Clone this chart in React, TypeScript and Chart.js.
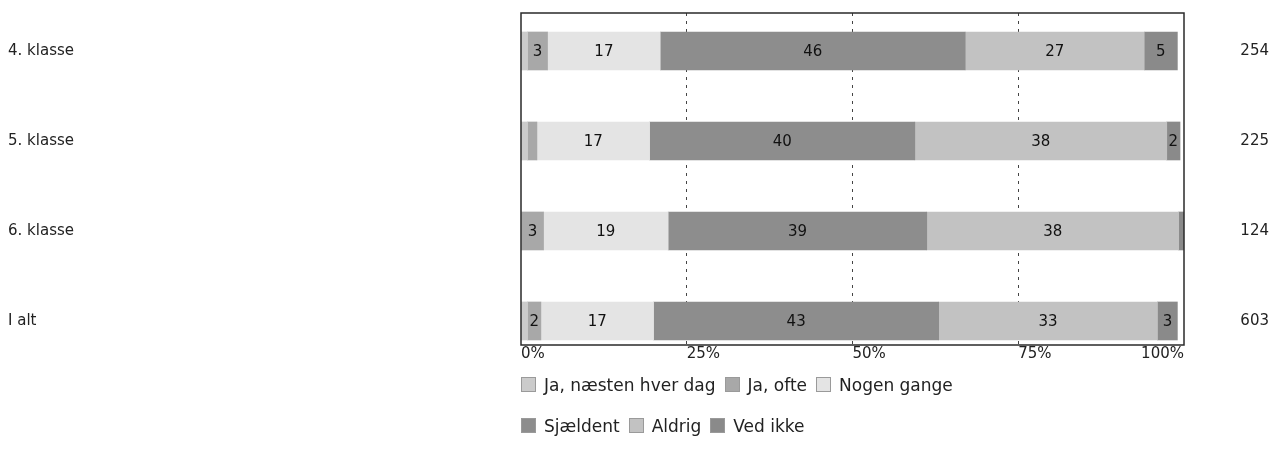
import React, { useEffect, useRef } from "react";
import { Chart, registerables } from "chart.js";

Chart.register(...registerables);

const categories = ["4. klasse", "5. klasse", "6. klasse", "I alt"];
const totals = ["254", "225", "124", "603"];
const seriesNames = ["Ja, næsten hver dag", "Ja, ofte", "Nogen gange", "Sjældent", "Aldrig", "Ved ikke"];
const jaNaestenHverDag = [1, 1, 0, 1];
const jaOfte = [3, 1.4, 3.4, 2];
const nogenGange = [17, 17, 18.8, 17];
const sjaeldent = [46, 40, 39, 43];
const aldrig = [27, 38, 38, 33];
const vedIkke = [5, 2, 0.8, 3];
const seriesValues = [jaNaestenHverDag, jaOfte, nogenGange, sjaeldent, aldrig, vedIkke];
const xTicks = [0, 25, 50, 75, 100];
const xTickLabels = ["0%", "25%", "50%", "75%", "100%"];
const colors = ["#cbcbcb", "#a8a8a8", "#e4e4e4", "#8d8d8d", "#c2c2c2", "#8a8a8a"];

const FONT = "'DejaVu Sans', Verdana, sans-serif";
const W = 1264;
const H = 451;

const overlay = {
  id: "overlay",
  afterDatasetsDraw(chart: any) {
    const ctx = chart.ctx;
    ctx.save();
    ctx.font = `15px ${FONT}`;
    ctx.fillStyle = "#111";
    ctx.textAlign = "center";
    ctx.textBaseline = "middle";
    chart.data.datasets.forEach((_ds: any, di: number) => {
      const meta = chart.getDatasetMeta(di);
      meta.data.forEach((el: any, i: number) => {
        const v = seriesValues[di][i];
        if (v < 1.5) return;
        const { x, base, y } = el.getProps(["x", "base", "y"], true);
        ctx.fillText(String(Math.round(v)), (x + base) / 2, y + 1);
      });
    });
    const a = chart.chartArea;
    ctx.strokeStyle = "#2a2a2a";
    ctx.lineWidth = 1.5;
    ctx.strokeRect(a.left, a.top, a.right - a.left, a.bottom - a.top);
    const xs = chart.scales.x;
    ctx.font = `15px ${FONT}`;
    ctx.fillStyle = "#222";
    ctx.textBaseline = "middle";
    xTicks.forEach((t, k) => {
      const px = xs.getPixelForValue(t);
      ctx.textAlign = k === xTicks.length - 1 ? "right" : "left";
      ctx.fillText(xTickLabels[k], px, a.bottom + 9);
    });
    ctx.restore();
  },
};

export default function App() {
  const ref = useRef<HTMLCanvasElement | null>(null);

  useEffect(() => {
    if (!ref.current) return;
    const chart = new Chart(ref.current, {
      type: "bar",
      data: {
        datasets: seriesNames.map((name, di) => ({
          label: name,
          data: categories.map((_c, i) => ({ x: seriesValues[di][i], y: i })),
          backgroundColor: colors[di],
          borderWidth: 0,
          barThickness: 38,
        })),
      },
      options: {
        indexAxis: "y",
        responsive: false,
        animation: false,
        layout: { padding: { top: 5, left: 0, right: 3, bottom: 0 } },
        plugins: { legend: { display: false }, tooltip: { enabled: false } },
        scales: {
          x: {
            type: "linear",
            min: 0,
            max: 100,
            stacked: true,
            offset: false,
            position: "bottom",
            afterBuildTicks: (s: any) => {
              s.ticks = xTicks.map((v) => ({ value: v }));
            },
            ticks: { display: false },
            grid: {
              color: (c: any) =>
                c.tick && (c.tick.value === 0 || c.tick.value === 100) ? "rgba(0,0,0,0)" : "#444",
              lineWidth: 1,
              drawTicks: false,
              offset: false,
            },
            border: { display: false, dash: [3, 5] },
            afterFit: (s: any) => {
              s.height = 114;
              s.paddingLeft = 0;
              s.paddingRight = 0;
            },
          },
          y: {
            type: "linear",
            min: -0.422,
            max: 3.267,
            reverse: true,
            stacked: true,
            offset: false,
            bounds: "data",
            position: "left",
            afterBuildTicks: (s: any) => {
              s.ticks = categories.map((_c, i) => ({ value: i }));
            },
            ticks: {
              callback: (_v: any, i: number) => categories[i],
              crossAlign: "far",
              padding: 0,
              color: "#222",
              font: { family: FONT, size: 15 },
            },
            grid: { display: false, drawTicks: false, offset: false },
            border: { display: false },
            afterFit: (s: any) => {
              s.width = 513;
              s.paddingTop = 0;
              s.paddingBottom = 0;
            },
          },
          y2: {
            type: "linear",
            min: -0.422,
            max: 3.267,
            reverse: true,
            offset: false,
            bounds: "data",
            position: "right",
            afterBuildTicks: (s: any) => {
              s.ticks = totals.map((_t, i) => ({ value: i }));
            },
            ticks: {
              callback: (_v: any, i: number) => totals[i],
              crossAlign: "far",
              padding: 0,
              color: "#222",
              font: { family: FONT, size: 15 },
            },
            grid: { display: false, drawTicks: false, offset: false },
            border: { display: false },
            afterFit: (s: any) => {
              s.width = 85;
              s.paddingTop = 0;
              s.paddingBottom = 0;
            },
          },
        },
      } as any,
      plugins: [overlay],
    });
    return () => chart.destroy();
  }, []);

  return (
    <div style={{ position: "relative", width: W, height: H }}>
      <canvas ref={ref} width={W} height={H} style={{ display: "block", width: W, height: H }} />
      <div
        style={{
          position: "absolute",
          left: 513,
          top: 356,
          width: 460,
          display: "flex",
          flexWrap: "wrap",
          fontFamily: FONT,
          fontSize: 17,
          color: "#222",
        }}
      >
        {seriesNames.map((n, i) => (
          <div key={n} style={{ display: "flex", alignItems: "center", height: 41, marginRight: 9 }}>
            <span
              style={{
                display: "inline-block",
                width: 15,
                height: 15,
                background: colors[i],
                border: "1px solid #9a9a9a",
                boxSizing: "border-box",
                marginRight: 8,
              }}
            />
            <span>{n}</span>
          </div>
        ))}
      </div>
    </div>
  );
}
